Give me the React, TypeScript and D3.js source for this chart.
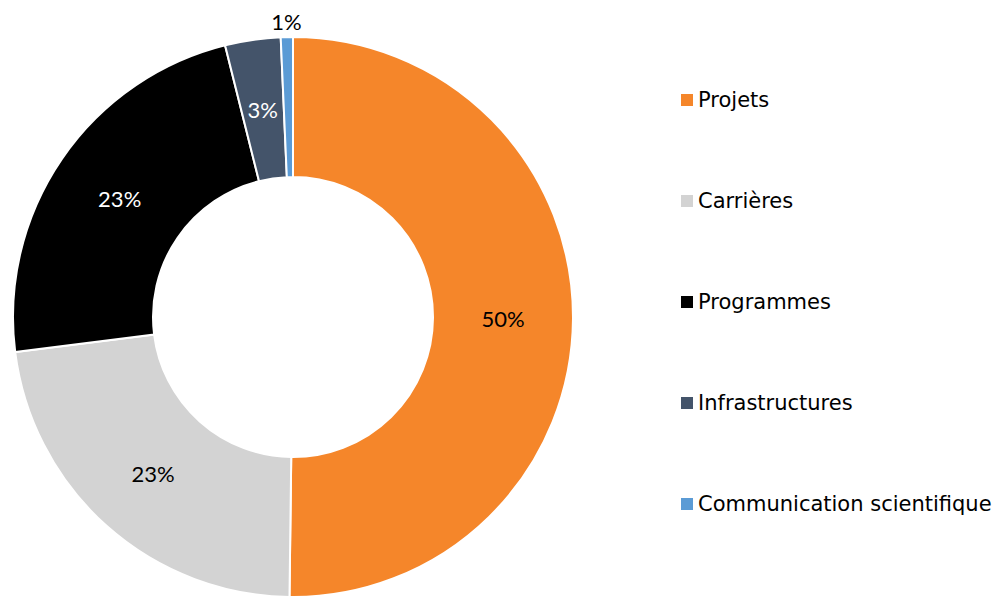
import { useEffect, useRef } from 'react';
import * as d3 from 'd3';

const categories = ['Projets', 'Carrières', 'Programmes', 'Infrastructures', 'Communication scientifique'];
const values = [50.2, 22.8, 23.1, 3.2, 0.7];
const labels = ['50%', '23%', '23%', '3%', '1%'];
const colors = ['#F5862A', '#D3D3D3', '#000000', '#44546A', '#5B9BD5'];
const labelColors = ['#000000', '#000000', '#FFFFFF', '#FFFFFF', '#000000'];

export default function App() {
  const svgRef = useRef<SVGSVGElement>(null);

  useEffect(() => {
    if (!svgRef.current) return;
    const svg = d3.select(svgRef.current);
    svg.selectAll('*').remove();

    const cx = 293;
    const cy = 317;
    const outerR = 280;
    const innerR = 140;

    const pie = d3.pie<number>().sort(null).value(d => d);
    const arcs = pie(values);
    const arc = d3.arc<d3.PieArcDatum<number>>().innerRadius(innerR).outerRadius(outerR);
    const outsideArc = d3.arc<d3.PieArcDatum<number>>().innerRadius(296).outerRadius(296);

    const g = svg.append('g').attr('transform', `translate(${cx},${cy})`);

    g.selectAll('.slice')
      .data(arcs)
      .enter().append('path')
      .attr('class', 'slice')
      .attr('d', arc)
      .attr('fill', (d, i) => colors[i])
      .attr('stroke', '#fff')
      .attr('stroke-width', 2);

    // Labels: small slices go outside
    g.selectAll('.label')
      .data(arcs)
      .enter().append('text')
      .attr('class', 'label')
      .attr('transform', (d, i) => {
        const [x, y] = values[i] < 2 ? outsideArc.centroid(d) : arc.centroid(d);
        return `translate(${x},${y})`;
      })
      .attr('text-anchor', 'middle')
      .attr('dominant-baseline', 'central')
      .attr('font-family', 'Lato, sans-serif')
      .attr('font-size', '22px')
      .attr('fill', (d, i) => labelColors[i])
      .text((d, i) => labels[i]);

    // Legend
    const legend = svg.append('g').attr('transform', 'translate(681,0)');
    const ly = d3.scalePoint<string>().domain(categories).range([100, 504]);

    const items = legend.selectAll('.item')
      .data(categories)
      .enter().append('g')
      .attr('class', 'item')
      .attr('transform', d => `translate(0,${ly(d)})`);

    items.append('rect')
      .attr('x', 0)
      .attr('y', -6)
      .attr('width', 12)
      .attr('height', 12)
      .attr('fill', (d, i) => colors[i]);

    items.append('text')
      .attr('x', 17)
      .attr('y', 0)
      .attr('dominant-baseline', 'central')
      .attr('font-family', '"DejaVu Sans", Verdana, sans-serif')
      .attr('font-size', '21px')
      .attr('fill', '#000')
      .text(d => d);
  }, []);

  return (
    <svg
      ref={svgRef}
      width={995}
      height={596}
      style={{ display: 'block', position: 'absolute', left: 0, top: 0 }}
    />
  );
}
